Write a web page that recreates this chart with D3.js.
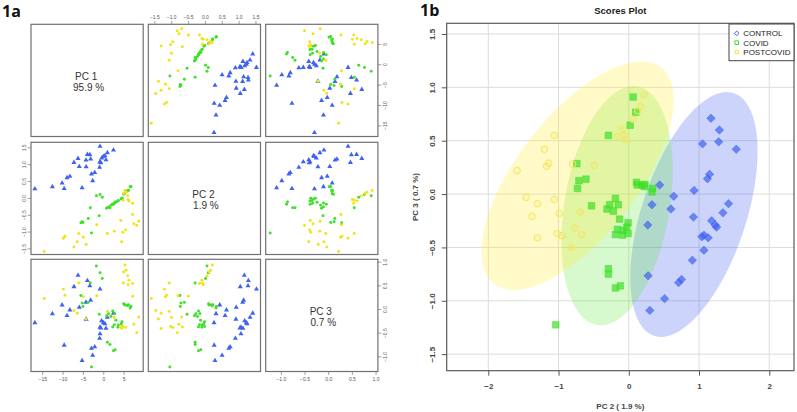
<!DOCTYPE html>
<html>
<head>
<meta charset="utf-8">
<script src="https://cdn.jsdelivr.net/npm/d3@7"></script>
<style>
  body { margin: 0; background: #fff; }
  svg { display: block; font-family: "Liberation Sans", Arial, sans-serif; }
</style>
</head>
<body>
<div id="chart"></div>
<script>
// Grupos y etiquetas
const groups = ["CONTROL", "COVID", "POSTCOVID"];
const pcNames = ["PC 1", "PC 2", "PC 3"];
const pcVariance = ["95.9 %", "1.9 %", "0.7 %"];

// Puntuaciones (PC1, PC2, PC3) por grupo
const controlPC1 = [-6.2, -3.9, -7.2, -3.3, -0.8, -3.1, -4.25, -10.1, -5.9, -8.2, -12.5, -8.9, 2.5, 1.0, -4.2, -0.4, 0.0, 0.4, -16.8, -0.8, -0.6, 0.66, -0.8, -0.9, -9.6, -2.9, -2.1, -2.6, -5.2];
const controlPC2 = [1.17, 1.29, 1.05, 1.28, 1.53, 1.15, 1.12, 0.44, 0.93, 0.64, 0.33, 0.60, 1.42, 1.34, 0.92, 1.18, 1.23, 1.25, 0.27, 1.07, 1.04, 1.13, 1.07, 0.905, 0.275, 0.71, 0.75, 0.51, 0.30];
const controlPC3 = [0.71, 0.60, 0.47, 0.49, 0.42, 0.185, 0.144, 0.085, 0.034, -0.02, -0.10, -0.14, -0.09, -0.175, -0.216, -0.25, -0.29, -0.31, -0.29, -0.385, -0.40, -0.41, -0.526, -0.62, -0.766, -0.83, -0.80, -0.98, -1.09];

const covidPC1 = [-1.7, -0.8, -0.25, -3.2, -5.5, -5.2, -3.7, -5.0, -1.0, 2.3, 0.8, 1.3, 2.8, 1.9, 3.1, 4.6, 4.4, 2.7, 2.3, 3.6, 4.6, 3.7, 5.0, 5.6, 6.0, 6.8, 6.6, 1.0, 1.65, 2.5, 2.9, -2.9, 5.2, 6.2];
const covidPC2 = [0.062, 0.10, 0.02, -0.29, -0.74, -0.71, -0.61, -0.73, -0.53, -0.19, -0.31, -0.27, -0.15, -0.22, -0.13, -0.01, -0.03, -0.16, -0.19, -0.09, -0.01, -0.08, 0.11, 0.19, 0.22, 0.34, 0.33, -0.29, -0.29, -0.19, -0.12, -1.04, 0.12, 0.23];
const covidPC3 = [0.909, 0.767, 0.645, 0.55, 0.285, 0.125, 0.14, 0.053, -0.11, -0.04, -0.14, -0.10, -0.10, -0.16, -0.235, -0.27, -0.31, -0.33, -0.38, -0.385, -0.37, -0.34, 0.11, 0.085, 0.07, 0.053, 0.02, -0.70, -0.75, -0.88, -0.86, -1.225, 0.085, 0.09];

const postcovidPC1 = [5.3, 5.6, 5.0, 6.0, 6.3, 7.2, 4.9, 6.1, -6.0, -9.8, -9.4, -4.9, -14.5, 7.2, -7.2, -6.4, 1.0, -4.2, 2.7, 8.7, 7.5, 4.8, 5.5, 4.3, 4.5, 8.2, -1.6];
const postcovidPC2 = [0.22, 0.17, 0.13, 0.06, -0.09, -0.16, -0.07, -0.05, -1.06, -1.2, -1.14, -1.17, -1.59, -0.49, -1.46, -1.30, -1.06, -1.38, -0.99, -0.69, -0.77, -1.02, -0.95, -0.67, -1.30, -0.82, -0.80];
const postcovidPC3 = [0.93, 0.82, 0.78, 0.70, 0.61, 0.54, 0.55, 0.51, 0.55, 0.42, 0.29, 0.26, 0.22, 0.27, -0.03, -0.09, -0.05, -0.21, -0.18, -0.17, -0.32, -0.37, -0.39, -0.38, -0.41, -0.50, 0.28];

// Marcas de los ejes
const pairTicks = [[-15, -10, -5, 0, 5], [-1.5, -1, -0.5, 0, 0.5, 1, 1.5], [-1, -0.5, 0, 0.5, 1]];
const scoreTicksX = [-2, -1, 0, 1, 2];
const scoreTicksY = [-1.5, -1, -0.5, 0, 0.5, 1, 1.5];

// Colores
const pointColor = { CONTROL: "#3f62f0", COVID: "#3fe02a", POSTCOVID: "#f2e21a" };
const fillColor = { CONTROL: "#3355ee", COVID: "#5be838", POSTCOVID: "#ffee33" };

const samples = [];
[[controlPC1, controlPC2, controlPC3], [covidPC1, covidPC2, covidPC3], [postcovidPC1, postcovidPC2, postcovidPC3]]
  .forEach((arr, g) => arr[0].forEach((v, i) => samples.push({ group: groups[g], pc: [arr[0][i], arr[1][i], arr[2][i]] })));

const width = 797, height = 412;
const svg = d3.select("#chart").append("svg").attr("width", width).attr("height", height);

// ---------- 1a: matriz de dispersión ----------
const pcDomains = [[-17.75, 9.8], [-1.68, 1.65], [-1.32, 1.05]];
const cellX = [31, 148.3, 265.7], cellY = [24.3, 142.3, 259.3], cell = 112.2;
const xs = pcDomains.map((d, j) => d3.scaleLinear().domain(d).range([cellX[j], cellX[j] + cell]));
const ys = pcDomains.map((d, i) => d3.scaleLinear().domain(d).range([cellY[i] + cell, cellY[i]]));
const fmtPair = [d3.format("d"), d3.format(".1f"), d3.format(".1f")];

svg.append("text").attr("x", 2).attr("y", 17)
  .attr("font-family", "'Open Sans', sans-serif").attr("font-weight", "bold").attr("font-size", 16)
  .attr("fill", "#111").text("1a");

const pairs = svg.append("g");
for (let i = 0; i < 3; i++) {
  for (let j = 0; j < 3; j++) {
    const cellG = pairs.append("g");
    if (i === j) {
      const cx = cellX[j] + cell / 2, cy = cellY[i] + cell / 2;
      const t = cellG.append("text").attr("font-size", 10).attr("fill", "#333")
        .attr("text-anchor", "middle").style("white-space", "pre");
      t.append("tspan").attr("x", cx - 1).attr("y", cy - 0.5).text(pcNames[i]);
      t.append("tspan").attr("x", cx + 1.5).attr("y", cy + 10.5).text(pcVariance[i]);
    } else {
      cellG.selectAll("path")
        .data(samples)
        .enter()
        .append("path")
        .attr("transform", d => `translate(${xs[j](d.pc[j])},${ys[i](d.pc[i])})`)
        .attr("d", d => d.group === "CONTROL"
          ? d3.symbol(d3.symbolTriangle, 11)()
          : d3.symbol(d3.symbolCircle, 7)())
        .attr("fill", d => pointColor[d.group]);
    }
    cellG.append("rect")
      .attr("x", cellX[j]).attr("y", cellY[i])
      .attr("width", cell).attr("height", cell)
      .attr("fill", "none").attr("stroke", "#707070").attr("stroke-width", 1.2);
  }
}

// Ejes alternos como en pairs() de R
function styleAxis(g, rotate, off) {
  g.select(".domain").remove();
  g.selectAll("line").attr("stroke", "#666").attr("stroke-width", 0.6);
  g.selectAll("text").attr("font-size", 5).attr("fill", "#555");
  if (rotate) {
    g.selectAll("text").attr("x", null).attr("dy", null).attr("y", 0)
      .attr("text-anchor", "middle")
      .attr("transform", `translate(${off},0) rotate(-90)`);
  }
}
svg.append("g").attr("transform", `translate(0,${cellY[0]})`)
  .call(d3.axisTop(xs[1]).tickValues(pairTicks[1]).tickFormat(fmtPair[1]).tickSize(3.5).tickPadding(2))
  .call(g => styleAxis(g, false));
svg.append("g").attr("transform", `translate(0,${cellY[2] + cell})`)
  .call(d3.axisBottom(xs[0]).tickValues(pairTicks[0]).tickFormat(fmtPair[0]).tickSize(3.5).tickPadding(2))
  .call(g => styleAxis(g, false));
svg.append("g").attr("transform", `translate(0,${cellY[2] + cell})`)
  .call(d3.axisBottom(xs[2]).tickValues(pairTicks[2]).tickFormat(fmtPair[2]).tickSize(3.5).tickPadding(2))
  .call(g => styleAxis(g, false));
svg.append("g").attr("transform", `translate(${cellX[0]},0)`)
  .call(d3.axisLeft(ys[1]).tickValues(pairTicks[1]).tickFormat(fmtPair[1]).tickSize(3.5))
  .call(g => styleAxis(g, true, -5.3));
svg.append("g").attr("transform", `translate(${cellX[2] + cell},0)`)
  .call(d3.axisRight(ys[0]).tickValues(pairTicks[0]).tickFormat(fmtPair[0]).tickSize(3.5))
  .call(g => styleAxis(g, true, 9.5));
svg.append("g").attr("transform", `translate(${cellX[2] + cell},0)`)
  .call(d3.axisRight(ys[2]).tickValues(pairTicks[2]).tickFormat(fmtPair[2]).tickSize(3.5))
  .call(g => styleAxis(g, true, 9.5));

// ---------- 1b: Scores Plot (PC2 vs PC3) ----------
const plot = { left: 446.7, right: 794, top: 23.3, bottom: 370.7 };
const x = d3.scaleLinear().domain([-2.592, 2.352]).range([plot.left, plot.right]);
const y = d3.scaleLinear().domain([-1.655, 1.6]).range([plot.bottom, plot.top]);

svg.append("text").attr("x", 420).attr("y", 16)
  .attr("font-family", "'Open Sans', sans-serif").attr("font-weight", "bold").attr("font-size", 16)
  .attr("fill", "#111").text("1b");

svg.append("text").attr("x", (plot.left + plot.right) / 2).attr("y", 13.5)
  .attr("text-anchor", "middle").attr("font-weight", "bold").attr("font-size", 9.5)
  .attr("fill", "#222").text("Scores Plot");

const score = svg.append("g");

// Rejilla
score.append("g").selectAll("line").data(scoreTicksX).enter().append("line")
  .attr("x1", d => x(d)).attr("x2", d => x(d)).attr("y1", plot.top).attr("y2", plot.bottom)
  .attr("stroke", "#dcdcdc").attr("stroke-width", 1);
score.append("g").selectAll("line").data(scoreTicksY).enter().append("line")
  .attr("y1", d => y(d)).attr("y2", d => y(d)).attr("x1", plot.left).attr("x2", plot.right)
  .attr("stroke", "#dcdcdc").attr("stroke-width", 1);

// Elipses de confianza al 95 % (como ellipse::ellipse en R)
function ellipse95(px, py, n = 120) {
  const mx = d3.mean(px), my = d3.mean(py);
  const sx = d3.deviation(px), sy = d3.deviation(py);
  const r = d3.sum(px.map((v, i) => (v - mx) * (py[i] - my))) / ((px.length - 1) * sx * sy);
  const t = Math.sqrt(5.991464547), d = Math.acos(r);
  return d3.range(n).map(k => {
    const a = 2 * Math.PI * k / n;
    return [mx + t * sx * Math.cos(a + d / 2), my + t * sy * Math.cos(a - d / 2)];
  });
}
const line = d3.line().x(d => x(d[0])).y(d => y(d[1])).curve(d3.curveLinearClosed);
const ellData = [
  { group: "CONTROL", pts: ellipse95(controlPC2, controlPC3) },
  { group: "COVID", pts: ellipse95(covidPC2, covidPC3) },
  { group: "POSTCOVID", pts: ellipse95(postcovidPC2, postcovidPC3) }
];
score.append("g").selectAll("path").data(ellData).enter().append("path")
  .attr("d", d => line(d.pts))
  .attr("fill", d => fillColor[d.group])
  .attr("fill-opacity", d => d.group === "POSTCOVID" ? 0.27 : 0.25)
  .attr("stroke", "none");

// Formas de los puntos
function shapePath(group, s) {
  if (group === "CONTROL") return `M0,${-s}L${s},0L0,${s}L${-s},0Z`;
  if (group === "COVID") return `M${-s * 0.78},${-s * 0.78}h${s * 1.56}v${s * 1.56}h${-s * 1.56}Z`;
  return d3.symbol(d3.symbolCircle, Math.PI * (s * 0.8) * (s * 0.8))();
}

score.append("g").selectAll("path")
  .data(samples)
  .enter()
  .append("path")
  .attr("transform", d => `translate(${x(d.pc[1])},${y(d.pc[2])})`)
  .attr("d", d => shapePath(d.group, 4.2))
  .attr("fill", d => pointColor[d.group])
  .attr("fill-opacity", d => d.group === "POSTCOVID" ? 0.15 : 0.7)
  .attr("stroke", d => d.group === "POSTCOVID" ? "#f4e66a" : pointColor[d.group])
  .attr("stroke-opacity", d => d.group === "POSTCOVID" ? 1 : 0.5)
  .attr("stroke-width", 1);

// Marco
score.append("rect")
  .attr("x", plot.left).attr("y", plot.top)
  .attr("width", plot.right - plot.left).attr("height", plot.bottom - plot.top)
  .attr("fill", "none").attr("stroke", "#5a5a5a").attr("stroke-width", 1.2);

// Ejes
const fmtY = d3.format(".1f");
svg.append("g").attr("transform", `translate(0,${plot.bottom})`)
  .call(d3.axisBottom(x).tickValues(scoreTicksX).tickFormat(d3.format("d")).tickSize(5).tickPadding(8))
  .call(g => {
    g.select(".domain").remove();
    g.selectAll("line").attr("stroke", "#555");
    g.selectAll("text").attr("font-size", 8).attr("font-weight", "bold").attr("fill", "#444");
  });
svg.append("g").attr("transform", `translate(${plot.left},0)`)
  .call(d3.axisLeft(y).tickValues(scoreTicksY).tickFormat(fmtY).tickSize(5))
  .call(g => {
    g.select(".domain").remove();
    g.selectAll("line").attr("stroke", "#555");
    g.selectAll("text").attr("font-size", 8).attr("font-weight", "bold").attr("fill", "#444")
      .attr("x", null).attr("dy", null).attr("y", 0).attr("text-anchor", "middle")
      .attr("transform", "translate(-11.5,0) rotate(-90)");
  });

svg.append("text").attr("x", (plot.left + plot.right) / 2).attr("y", 408.5)
  .attr("text-anchor", "middle").attr("font-size", 8).attr("font-weight", "bold")
  .attr("fill", "#444").text("PC 2 ( 1.9 %)");
svg.append("text")
  .attr("transform", `translate(418,${(plot.top + plot.bottom) / 2}) rotate(-90)`)
  .attr("text-anchor", "middle").attr("font-size", 8).attr("font-weight", "bold")
  .attr("fill", "#444").text("PC 3 ( 0.7 %)");

// Leyenda
const legend = svg.append("g").attr("transform", "translate(729,24)");
legend.append("rect").attr("width", 65).attr("height", 36.7)
  .attr("fill", "#fff").attr("stroke", "#444").attr("stroke-width", 1);
const items = legend.selectAll("g").data(groups).enter().append("g")
  .attr("transform", (d, i) => `translate(0,${9.3 + i * 9.35})`);
items.append("path")
  .attr("transform", "translate(7.7,0)")
  .attr("d", d => shapePath(d, 2.3))
  .attr("fill", "none").attr("stroke", d => pointColor[d]).attr("stroke-width", 1);
items.append("text").attr("x", 14.3).attr("y", 2.9)
  .attr("font-size", 8).attr("fill", "#222").text(d => d);
</script>
</body>
</html>
